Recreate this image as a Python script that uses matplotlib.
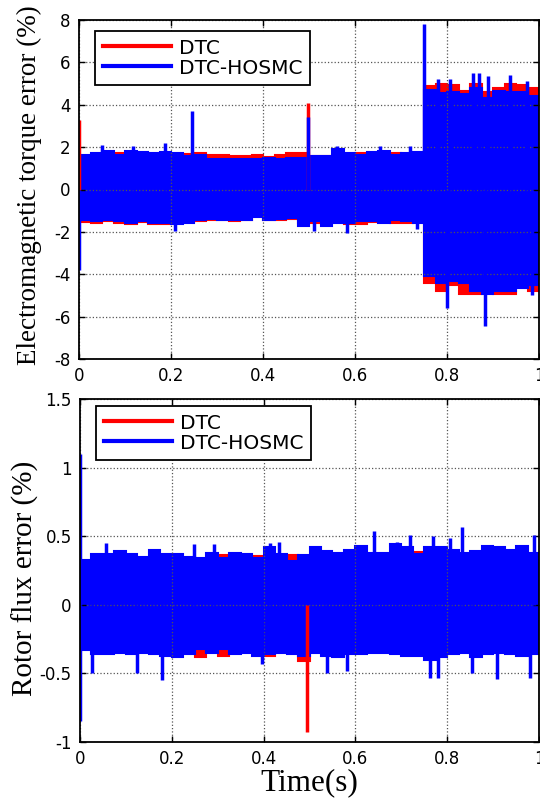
import numpy as np
import matplotlib
matplotlib.use("Agg")
import matplotlib.pyplot as plt
from matplotlib.lines import Line2D

# ---------------- data ----------------
# envelope bins: 40 bins of 0.025 s covering 0..1 s
edges = np.linspace(0.0, 1.0, 41)

# Top chart: electromagnetic torque error (%)
torque_dtc_upper = [1.6, 1.65, 1.7, 1.72, 1.65, 1.6, 1.68, 1.65, 1.6, 1.68,
                    1.72, 1.62, 1.62, 1.6, 1.6, 1.65, 1.55, 1.65, 1.72, 1.73,
                    1.58, 1.58, 1.6, 1.65, 1.73, 1.65, 1.6, 1.73, 1.65, 1.7,
                    4.9, 5.0, 4.95, 4.65, 5.0, 4.6, 4.8, 5.0, 4.95, 4.8]
torque_dtc_lower = [-1.55, -1.6, -1.5, -1.6, -1.65, -1.55, -1.62, -1.62, -1.6, -1.55,
                    -1.5, -1.45, -1.45, -1.5, -1.45, -1.25, -1.45, -1.45, -1.4, -1.6,
                    -1.57, -1.57, -1.5, -1.65, -1.65, -1.55, -1.5, -1.6, -1.57, -1.55,
                    -4.4, -4.8, -4.5, -4.95, -4.95, -4.8, -4.95, -4.95, -4.4, -4.8]
torque_hosmc_upper = [1.65, 1.73, 1.8, 1.65, 1.8, 1.75, 1.7, 1.75, 1.7, 1.6,
                      1.65, 1.45, 1.45, 1.45, 1.45, 1.42, 1.5, 1.45, 1.5, 1.5,
                      1.6, 1.6, 1.9, 1.7, 1.62, 1.75, 1.8, 1.65, 1.7, 1.75,
                      4.7, 4.55, 4.6, 4.5, 4.8, 4.3, 4.65, 4.6, 4.6, 4.4]
torque_hosmc_lower = [-1.42, -1.5, -1.42, -1.5, -1.6, -1.5, -1.57, -1.6, -1.65, -1.6,
                      -1.42, -1.38, -1.42, -1.42, -1.42, -1.3, -1.42, -1.4, -1.35, -1.7,
                      -1.5, -1.7, -1.57, -1.57, -1.5, -1.5, -1.57, -1.42, -1.5, -1.57,
                      -4.1, -4.4, -4.3, -4.4, -4.8, -4.95, -4.8, -4.8, -4.65, -4.5]
# isolated peaks / spikes (time s, value %)
torque_dtc_peak_t = [0.0, 0.498]
torque_dtc_peak_v = [3.3, 4.1]
torque_hosmc_peak_t = [0.0, 0.049, 0.118, 0.187, 0.209, 0.246, 0.498, 0.51, 0.56, 0.582,
                       0.654, 0.72, 0.735, 0.749, 0.781, 0.799, 0.806, 0.856, 0.87,
                       0.883, 0.89, 0.937, 0.973, 0.985]
torque_hosmc_peak_v = [-3.8, 2.1, 2.05, 2.2, -1.97, 3.7, 3.4, -1.97, 2.05, -2.05,
                       2.05, 2.05, -1.85, 7.8, 5.2, -5.6, 5.2, 5.5, 5.5,
                       -6.45, 5.35, 5.4, 5.1, -5.0]

# Bottom chart: rotor flux error (%)
flux_dtc_upper = [0.3, 0.32, 0.32, 0.33, 0.32, 0.32, 0.33, 0.32, 0.33, 0.32,
                  0.33, 0.33, 0.36, 0.33, 0.33, 0.355, 0.33, 0.33, 0.36, 0.33,
                  0.33, 0.33, 0.33, 0.33, 0.33, 0.33, 0.33, 0.33, 0.33, 0.385,
                  0.33, 0.33, 0.33, 0.33, 0.33, 0.33, 0.33, 0.33, 0.33, 0.33]
flux_dtc_lower = [-0.32, -0.33, -0.33, -0.33, -0.33, -0.33, -0.33, -0.33, -0.33, -0.33,
                  -0.38, -0.33, -0.37, -0.33, -0.33, -0.33, -0.37, -0.33, -0.33, -0.41,
                  -0.33, -0.33, -0.33, -0.33, -0.33, -0.33, -0.33, -0.33, -0.33, -0.33,
                  -0.33, -0.33, -0.33, -0.33, -0.33, -0.33, -0.33, -0.33, -0.33, -0.33]
flux_hosmc_upper = [0.33, 0.37, 0.37, 0.39, 0.37, 0.35, 0.4, 0.37, 0.37, 0.35,
                    0.34, 0.38, 0.34, 0.38, 0.37, 0.34, 0.42, 0.37, 0.32, 0.36,
                    0.42, 0.39, 0.38, 0.4, 0.43, 0.38, 0.38, 0.44, 0.42, 0.37,
                    0.42, 0.42, 0.4, 0.38, 0.39, 0.43, 0.42, 0.4, 0.43, 0.38]
flux_hosmc_lower = [-0.33, -0.36, -0.36, -0.35, -0.36, -0.35, -0.36, -0.37, -0.38, -0.36,
                    -0.32, -0.35, -0.32, -0.36, -0.35, -0.37, -0.36, -0.35, -0.36, -0.37,
                    -0.35, -0.37, -0.38, -0.36, -0.36, -0.35, -0.35, -0.36, -0.37, -0.37,
                    -0.4, -0.38, -0.36, -0.35, -0.38, -0.36, -0.35, -0.36, -0.37, -0.36]
flux_dtc_peak_t = [0.495]
flux_dtc_peak_v = [-0.93]
flux_hosmc_peak_t = [0.0, 0.0, 0.026, 0.057, 0.125, 0.178, 0.249, 0.292, 0.397, 0.415,
                     0.433, 0.539, 0.582, 0.64, 0.69, 0.72, 0.763, 0.77, 0.781, 0.806,
                     0.832, 0.854, 0.908, 0.98, 0.99]
flux_hosmc_peak_v = [1.1, -0.85, -0.5, 0.45, -0.5, -0.55, 0.44, 0.44, -0.43, 0.45,
                     0.46, -0.5, -0.48, 0.54, 0.46, 0.51, -0.53, 0.5, -0.53, 0.49,
                     0.57, -0.5, -0.54, -0.53, 0.51]

x_ticks = [0, 0.2, 0.4, 0.6, 0.8, 1]
x_ticklabels = ["0", "0.2", "0.4", "0.6", "0.8", "1"]
top_yticks = [-8, -6, -4, -2, 0, 2, 4, 6, 8]
bot_yticks = [-1, -0.5, 0, 0.5, 1, 1.5]
bot_yticklabels = ["-1", "-0.5", "0", "0.5", "1", "1.5"]

series_names = ["DTC", "DTC-HOSMC"]
series_colors = ["#ff0000", "#0000ff"]

# ---------------- drawing ----------------
fig = plt.figure(figsize=(5.4, 7.98), dpi=100)
ax1 = fig.add_axes([79 / 540, 1 - 359 / 798, 460 / 540, 339 / 798])
ax2 = fig.add_axes([80 / 540, 1 - 742 / 798, 459 / 540, 343 / 798])

tick_font = dict(family="DejaVu Sans", size=12)
serif = ["Liberation Serif", "DejaVu Serif"]


def draw_series(ax, upper, lower, pk_t, pk_v, color):
    ax.stairs(upper, edges, baseline=lower, fill=True, color=color, lw=0)
    ax.stairs(upper, edges, baseline=lower, fill=False, color=color, lw=1.5)
    ax.vlines(pk_t, 0, pk_v, color=color, lw=2.5)


def style_axes(ax, ylim, yticks, yticklabels, leg_top):
    ax.set_xlim(0, 1)
    ax.set_ylim(*ylim)
    ax.set_xticks(x_ticks)
    ax.set_xticklabels(x_ticklabels, fontdict=tick_font)
    ax.set_yticks(yticks)
    ax.set_yticklabels(yticklabels, fontdict=tick_font)
    ax.tick_params(direction="in", top=True, right=True, length=4, width=1,
                   pad=6, colors="black")
    ax.grid(True, linestyle=":", color="#555555", lw=0.9)
    for s in ax.spines.values():
        s.set_linewidth(1.3)
        s.set_color("black")
        s.set_zorder(10)
    handles = [Line2D([0], [0], color=c, lw=3) for c in series_colors]
    leg = ax.legend(handles, series_names, loc="upper left",
                    bbox_to_anchor=(0.035, leg_top),
                    prop=dict(family="DejaVu Sans", size=14.5), fancybox=False,
                    framealpha=1, edgecolor="black", handlelength=3.4,
                    borderpad=0.38, labelspacing=0.05, handletextpad=0.4,
                    borderaxespad=0)
    leg.get_frame().set_linewidth(1.3)
    leg.set_zorder(20)


draw_series(ax1, torque_dtc_upper, torque_dtc_lower, torque_dtc_peak_t,
            torque_dtc_peak_v, series_colors[0])
draw_series(ax1, torque_hosmc_upper, torque_hosmc_lower, torque_hosmc_peak_t,
            torque_hosmc_peak_v, series_colors[1])
style_axes(ax1, (-8, 8), top_yticks, [str(v) for v in top_yticks], 0.968)
ax1.set_ylabel("Electromagnetic torque error (%)", family=serif, size=19.5)
ax1.yaxis.set_label_coords(-0.08, 0.513)

draw_series(ax2, flux_dtc_upper, flux_dtc_lower, flux_dtc_peak_t,
            flux_dtc_peak_v, series_colors[0])
draw_series(ax2, flux_hosmc_upper, flux_hosmc_lower, flux_hosmc_peak_t,
            flux_hosmc_peak_v, series_colors[1])
style_axes(ax2, (-1, 1.5), bot_yticks, bot_yticklabels, 0.98)
ax2.set_ylabel("Rotor flux error (%)", family=serif, size=21)
ax2.yaxis.set_label_coords(-0.09, 0.478)
ax2.set_xlabel("Time(s)", family=serif, size=22.5, labelpad=0)

fig.savefig("out.png", dpi=100)
